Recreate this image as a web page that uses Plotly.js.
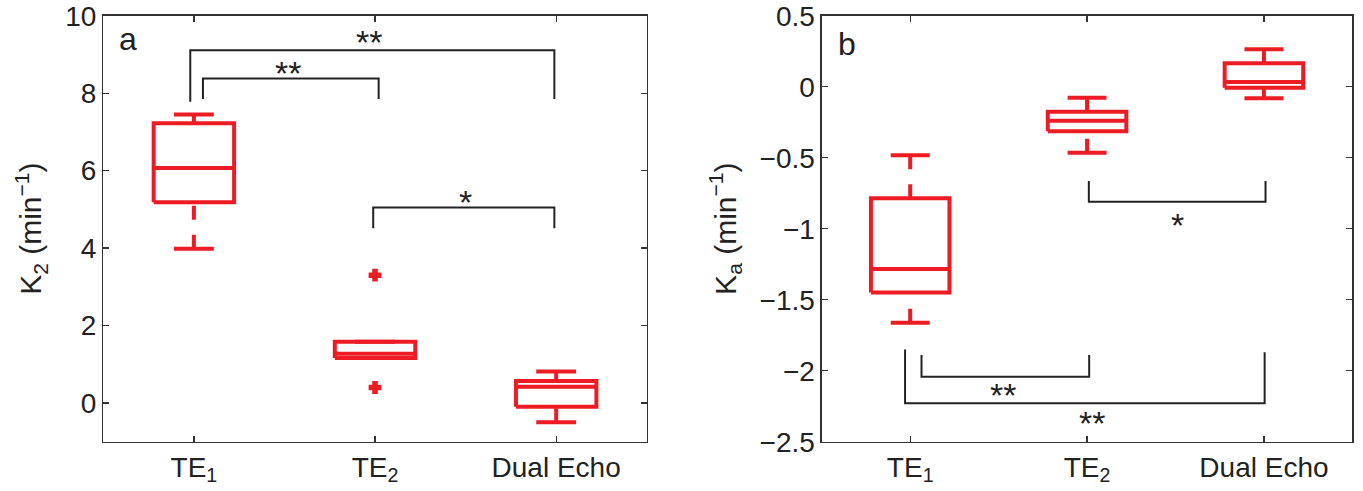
<!DOCTYPE html>
<html><head><meta charset="utf-8">
<script src="https://cdn.plot.ly/plotly-3.0.1.min.js"></script>
<style>html,body{margin:0;padding:0;background:#fff}#chart{width:1363px;height:491px}</style>
</head><body><div id="chart"></div>
<script>
// ---------- data ----------
const categories = ['TE<sub>1</sub>', 'TE<sub>2</sub>', 'Dual Echo'];
const positions = [1, 2, 3];

// Panel a: K2 (min^-1)
const k2Upper  = [7.45, 1.58, 0.81];
const k2Q3     = [7.22, 1.58, 0.57];
const k2Median = [6.07, 1.27, 0.42];
const k2Q1     = [5.18, 1.16, -0.10];
const k2Lower  = [3.98, 1.16, -0.50];
const k2OutlierCat = [2, 2];
const k2OutlierVal = [3.30, 0.40];

// Panel b: Ka (min^-1)
const kaUpper  = [-0.483, -0.077, 0.263];
const kaQ3     = [-0.786, -0.177, 0.165];
const kaMedian = [-1.284, -0.239, 0.033];
const kaQ1     = [-1.450, -0.313, -0.008];
const kaLower  = [-1.662, -0.465, -0.082];
const kaOutlierCat = [];
const kaOutlierVal = [];

// significance brackets, panel a
const k2SigFrom   = [0.98, 1.05, 1.99];
const k2SigTo     = [2.99, 2.02, 2.99];
const k2SigBar    = [9.11, 8.38, 5.05];
const k2SigLegA   = [7.78, 7.85, 4.51];
const k2SigLegB   = [7.85, 7.85, 4.51];
const k2SigText   = ['**', '**', '*'];
const k2SigTextX  = [1.965, 1.517, 2.50];
const k2SigTextY  = [9.50, 8.71, 5.37];

// significance brackets, panel b
const kaSigFrom   = [2.01, 1.064, 0.971];
const kaSigTo     = [3.009, 2.012, 3.004];
const kaSigBar    = [-0.81, -2.042, -2.23];
const kaSigLegA   = [-0.664, -1.89, -1.85];
const kaSigLegB   = [-0.664, -1.89, -1.87];
const kaSigText   = ['*', '**', '**'];
const kaSigTextX  = [2.51, 1.525, 2.03];
const kaSigTextY  = [-0.927, -2.124, -2.32];

// ---------- style ----------
const RED = 'rgb(237,28,36)';
const INK = '#222';
const BOX_HALF = 0.222;
const CAP_HALF = 0.11;
const FONT = 'Liberation Sans, Arial, Helvetica, sans-serif';

function boxTraces(xa, ya, up, q3, med, q1, lo, oc, ov) {
  const traces = [];
  const sx = [], sy = [];
  positions.forEach((c, i) => {
    sx.push(c - BOX_HALF, c + BOX_HALF, c + BOX_HALF, c - BOX_HALF, c - BOX_HALF, null);
    sy.push(q1[i], q1[i], q3[i], q3[i], q1[i], null);
    sx.push(c - BOX_HALF, c + BOX_HALF, null);
    sy.push(med[i], med[i], null);
    sx.push(c - CAP_HALF, c + CAP_HALF, null, c - CAP_HALF, c + CAP_HALF, null);
    sy.push(up[i], up[i], null, lo[i], lo[i], null);
    traces.push({type: 'scatter', mode: 'lines', xaxis: xa, yaxis: ya, x: [c, c], y: [up[i], q3[i]],
      line: {color: RED, width: 4, dash: '14px,15px'}, hoverinfo: 'skip', showlegend: false});
    traces.push({type: 'scatter', mode: 'lines', xaxis: xa, yaxis: ya, x: [c, c], y: [lo[i], q1[i]],
      line: {color: RED, width: 4, dash: '14px,15px'}, hoverinfo: 'skip', showlegend: false});
  });
  traces.push({type: 'scatter', mode: 'lines', xaxis: xa, yaxis: ya, x: sx, y: sy,
    line: {color: RED, width: 4}, hoverinfo: 'skip', showlegend: false});
  if (oc.length) {
    traces.push({type: 'scatter', mode: 'markers', xaxis: xa, yaxis: ya, x: oc, y: ov,
      marker: {symbol: 'cross', size: 9, color: RED, line: {width: 2, color: RED}}, hoverinfo: 'skip', showlegend: false});
  }
  return traces;
}

function bracketTraces(xa, ya, from, to, bar, legA, legB) {
  const x = [], y = [];
  from.forEach((f, i) => {
    x.push(f, f, to[i], to[i], null);
    y.push(legA[i], bar[i], bar[i], legB[i], null);
  });
  return [{type: 'scatter', mode: 'lines', xaxis: xa, yaxis: ya, x, y,
    line: {color: INK, width: 2}, hoverinfo: 'skip', showlegend: false}];
}

function sigAnnotations(xr, yr, tx, ty, txt) {
  return txt.map((t, i) => ({xref: xr, yref: yr, x: tx[i], y: ty[i], text: t, showarrow: false,
    xanchor: 'center', yanchor: 'middle', font: {family: FONT, size: 34, color: INK}, yshift: -7}));
}

const data = [
  ...bracketTraces('x', 'y', k2SigFrom, k2SigTo, k2SigBar, k2SigLegA, k2SigLegB),
  ...bracketTraces('x2', 'y2', kaSigFrom, kaSigTo, kaSigBar, kaSigLegA, kaSigLegB),
  ...boxTraces('x', 'y', k2Upper, k2Q3, k2Median, k2Q1, k2Lower, k2OutlierCat, k2OutlierVal),
  ...boxTraces('x2', 'y2', kaUpper, kaQ3, kaMedian, kaQ1, kaLower, kaOutlierCat, kaOutlierVal)
];

const axisCommon = {
  showline: true, linecolor: '#333', linewidth: 1.3, mirror: 'ticks',
  ticks: 'inside', ticklen: 6, tickwidth: 1.3, tickcolor: '#333',
  showgrid: false, zeroline: false, fixedrange: true,
  tickfont: {family: FONT, size: 28, color: INK}
};

const layout = {
  width: 1363, height: 491,
  margin: {l: 0, r: 0, t: 0, b: 0},
  paper_bgcolor: '#fff', plot_bgcolor: '#fff',
  showlegend: false,
  font: {family: FONT, color: INK},
  xaxis: Object.assign({}, axisCommon, {domain: [0.0758, 0.4745], range: [0.5, 3.5], anchor: 'y',
    tickvals: positions, ticktext: categories}),
  yaxis: Object.assign({}, axisCommon, {domain: [0.1004, 0.968], range: [-1, 10], anchor: 'x',
    tickvals: [0, 2, 4, 6, 8, 10],
    title: {text: 'K<sub>2</sub> (min<sup>−1</sup>)', font: {family: FONT, size: 30, color: INK}, standoff: 14}}),
  xaxis2: Object.assign({}, axisCommon, {domain: [0.6029, 0.9922], range: [0.5, 3.5], anchor: 'y2',
    tickvals: positions, ticktext: categories}),
  yaxis2: Object.assign({}, axisCommon, {domain: [0.1004, 0.968], range: [-2.5, 0.5], anchor: 'x2',
    tick0: 0, dtick: 0.5,
    title: {text: 'K<sub>a</sub> (min<sup>−1</sup>)', font: {family: FONT, size: 30, color: INK}, standoff: 14}}),
  annotations: [
    ...sigAnnotations('x', 'y', k2SigTextX, k2SigTextY, k2SigText),
    ...sigAnnotations('x2', 'y2', kaSigTextX, kaSigTextY, kaSigText),
    {xref: 'x', yref: 'y', x: 0.575, y: 9.40, text: 'a', showarrow: false, xanchor: 'left', yanchor: 'middle',
     font: {family: FONT, size: 32, color: INK}},
    {xref: 'x2', yref: 'y2', x: 0.578, y: 0.30, text: 'b', showarrow: false, xanchor: 'left', yanchor: 'middle',
     font: {family: FONT, size: 32, color: INK}}
  ]
};

Plotly.newPlot('chart', data, layout, {displayModeBar: false, staticPlot: true});
</script>
</body></html>
